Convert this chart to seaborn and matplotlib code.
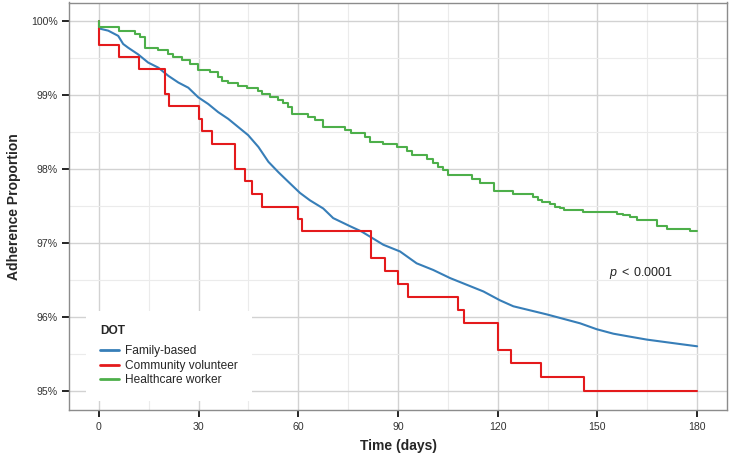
# Curvas de adesão ao tratamento (Kaplan-Meier) por tipo de DOT

import matplotlib
matplotlib.use("Agg")
import matplotlib.pyplot as plt
import seaborn as sns
import numpy as np
import pandas as pd
from matplotlib.ticker import FuncFormatter

# Dados (dias, % aderente)
family_days = [0, 2.8, 5.8, 7.3, 8.8, 11.8, 14.8, 17.9, 20.9, 23.9, 26.9, 29.9,
               32.9, 35.9, 38.9, 41.9, 44.9, 48, 51, 54, 57, 60.5, 63.5, 67.5,
               70.5, 75.6, 79, 85.6, 90.6, 95.6, 100.6, 105.7, 110.7, 115.7,
               120.7, 124.7, 134.8, 144.8, 149.8, 154.8, 159.8, 164.9, 169.9,
               174.9, 180]
family_vals = [99.90, 99.87, 99.80, 99.69, 99.64, 99.55, 99.44, 99.37, 99.26,
               99.17, 99.10, 98.97, 98.88, 98.77, 98.68, 98.57, 98.46, 98.30,
               98.10, 97.96, 97.83, 97.68, 97.58, 97.47, 97.34, 97.23, 97.16,
               96.98, 96.89, 96.73, 96.64, 96.53, 96.44, 96.35, 96.23, 96.15,
               96.04, 95.92, 95.84, 95.78, 95.74, 95.70, 95.67, 95.64, 95.61]

volunteer_days = [0, 0, 6, 12, 20, 21, 30, 31, 34, 41, 44, 46, 49, 60, 61,
                  82, 86, 90, 93, 108, 110, 120, 124, 133, 146, 180]
volunteer_vals = [100, 99.68, 99.51, 99.35, 99.02, 98.85, 98.68, 98.51, 98.34,
                  98.00, 97.84, 97.66, 97.49, 97.33, 97.16, 96.80, 96.63, 96.45,
                  96.27, 96.10, 95.93, 95.56, 95.38, 95.20, 95.00, 95.00]

worker_days = [0, 0, 6, 11, 12.3, 14, 17.9, 20.9, 22.4, 24.9, 27.4, 29.9, 33.4,
               35.9, 36.9, 38.9, 41.9, 44.5, 48, 49, 51.5, 54, 55.5, 57, 58, 63,
               65, 67.5, 74, 76, 80, 81.6, 85.6, 89.6, 92.6, 94.1, 98.6, 100.6,
               102.1, 103.6, 105.1, 112.2, 114.7, 118.8, 124.7, 125.8, 130.7,
               132, 133.2, 135.8, 137.3, 138.8, 140, 145.8, 155.8, 157.8, 159.8,
               161.8, 167.9, 170.9, 177.9, 180]
worker_vals = [100, 99.92, 99.87, 99.82, 99.78, 99.63, 99.61, 99.55, 99.51,
               99.47, 99.42, 99.34, 99.31, 99.25, 99.19, 99.17, 99.12, 99.09,
               99.05, 99.01, 98.98, 98.94, 98.89, 98.84, 98.75, 98.71, 98.66,
               98.57, 98.53, 98.49, 98.43, 98.37, 98.34, 98.30, 98.25, 98.19,
               98.14, 98.08, 98.03, 97.99, 97.92, 97.87, 97.81, 97.70, 97.67,
               97.66, 97.62, 97.58, 97.56, 97.53, 97.49, 97.47, 97.45, 97.42,
               97.40, 97.38, 97.35, 97.31, 97.23, 97.19, 97.17, 97.17]

groups = ["Family-based", "Community volunteer", "Healthcare worker"]
cores = ["#377EB8", "#E41A1C", "#4DAF4A"]
estilos = ["default", "steps-post", "steps-post"]

df = pd.concat([
    pd.DataFrame({"time": family_days, "surv": family_vals, "DOT": groups[0]}),
    pd.DataFrame({"time": volunteer_days, "surv": volunteer_vals, "DOT": groups[1]}),
    pd.DataFrame({"time": worker_days, "surv": worker_vals, "DOT": groups[2]}),
])

sns.set_style("white")
plt.rcParams["font.family"] = ["Liberation Sans", "DejaVu Sans"]
plt.rcParams["mathtext.fontset"] = "custom"
plt.rcParams["mathtext.rm"] = "Liberation Sans"
plt.rcParams["mathtext.it"] = "Liberation Sans:italic"

fig = plt.figure(figsize=(7.29, 4.59), dpi=100)
ax = fig.add_axes([69 / 729, 49 / 459, 658 / 729, 407.5 / 459])

for g, c, ds in zip(groups, cores, estilos):
    sns.lineplot(data=df[df["DOT"] == g], x="time", y="surv", color=c,
                 label=g, sort=False, estimator=None, drawstyle=ds,
                 linewidth=1.5, ax=ax)

ax.set_xlim(-9, 189)
ax.set_ylim(94.75, 100.25)
ax.set_xticks(range(0, 181, 30))
ax.set_xticks(range(15, 180, 30), minor=True)
ax.set_yticks([95, 96, 97, 98, 99, 100])
ax.set_yticks([95.5, 96.5, 97.5, 98.5, 99.5], minor=True)
ax.yaxis.set_major_formatter(FuncFormatter(lambda v, p: f"{v:.0f}%"))

ax.grid(True, which="major", color="#d2d2d2", linewidth=1.0, zorder=0)
ax.grid(True, which="minor", color="#ebebeb", linewidth=0.8, zorder=0)
ax.set_axisbelow(True)
ax.tick_params(axis="both", which="major", bottom=True, left=True, length=5,
               width=1.2, color="black", labelsize=7.6, labelcolor="#333333")
ax.tick_params(axis="x", which="major", pad=4)
ax.tick_params(axis="y", which="major", pad=3)
ax.tick_params(axis="both", which="minor", length=0)
for s in ax.spines.values():
    s.set_color("#8c8c8c")
    s.set_linewidth(1.0)

ax.set_xlabel("Time (days)", fontsize=10, fontweight="bold", labelpad=5)
ax.set_ylabel("Adherence Proportion", fontsize=10, fontweight="bold", labelpad=7)

ax.text(163.2, 96.6, r"$p\;<\;0.0001$", fontsize=9, ha="center", va="center",
        color="#222222")

leg = ax.legend(title="DOT", loc="upper left",
                bbox_to_anchor=(80 / 729, 1 - 305 / 459),
                bbox_transform=fig.transFigure, fontsize=8.6,
                title_fontproperties={"weight": "bold", "size": 8.6},
                frameon=True, facecolor="white", edgecolor="none",
                framealpha=1, fancybox=False, borderpad=1.2,
                handlelength=1.6, handletextpad=0.5, labelspacing=0.23,
                alignment="left")
leg._legend_box.sep = 5.5
for h in leg.get_lines():
    h.set_linewidth(2.0)

fig.savefig("out.png", dpi=100)
